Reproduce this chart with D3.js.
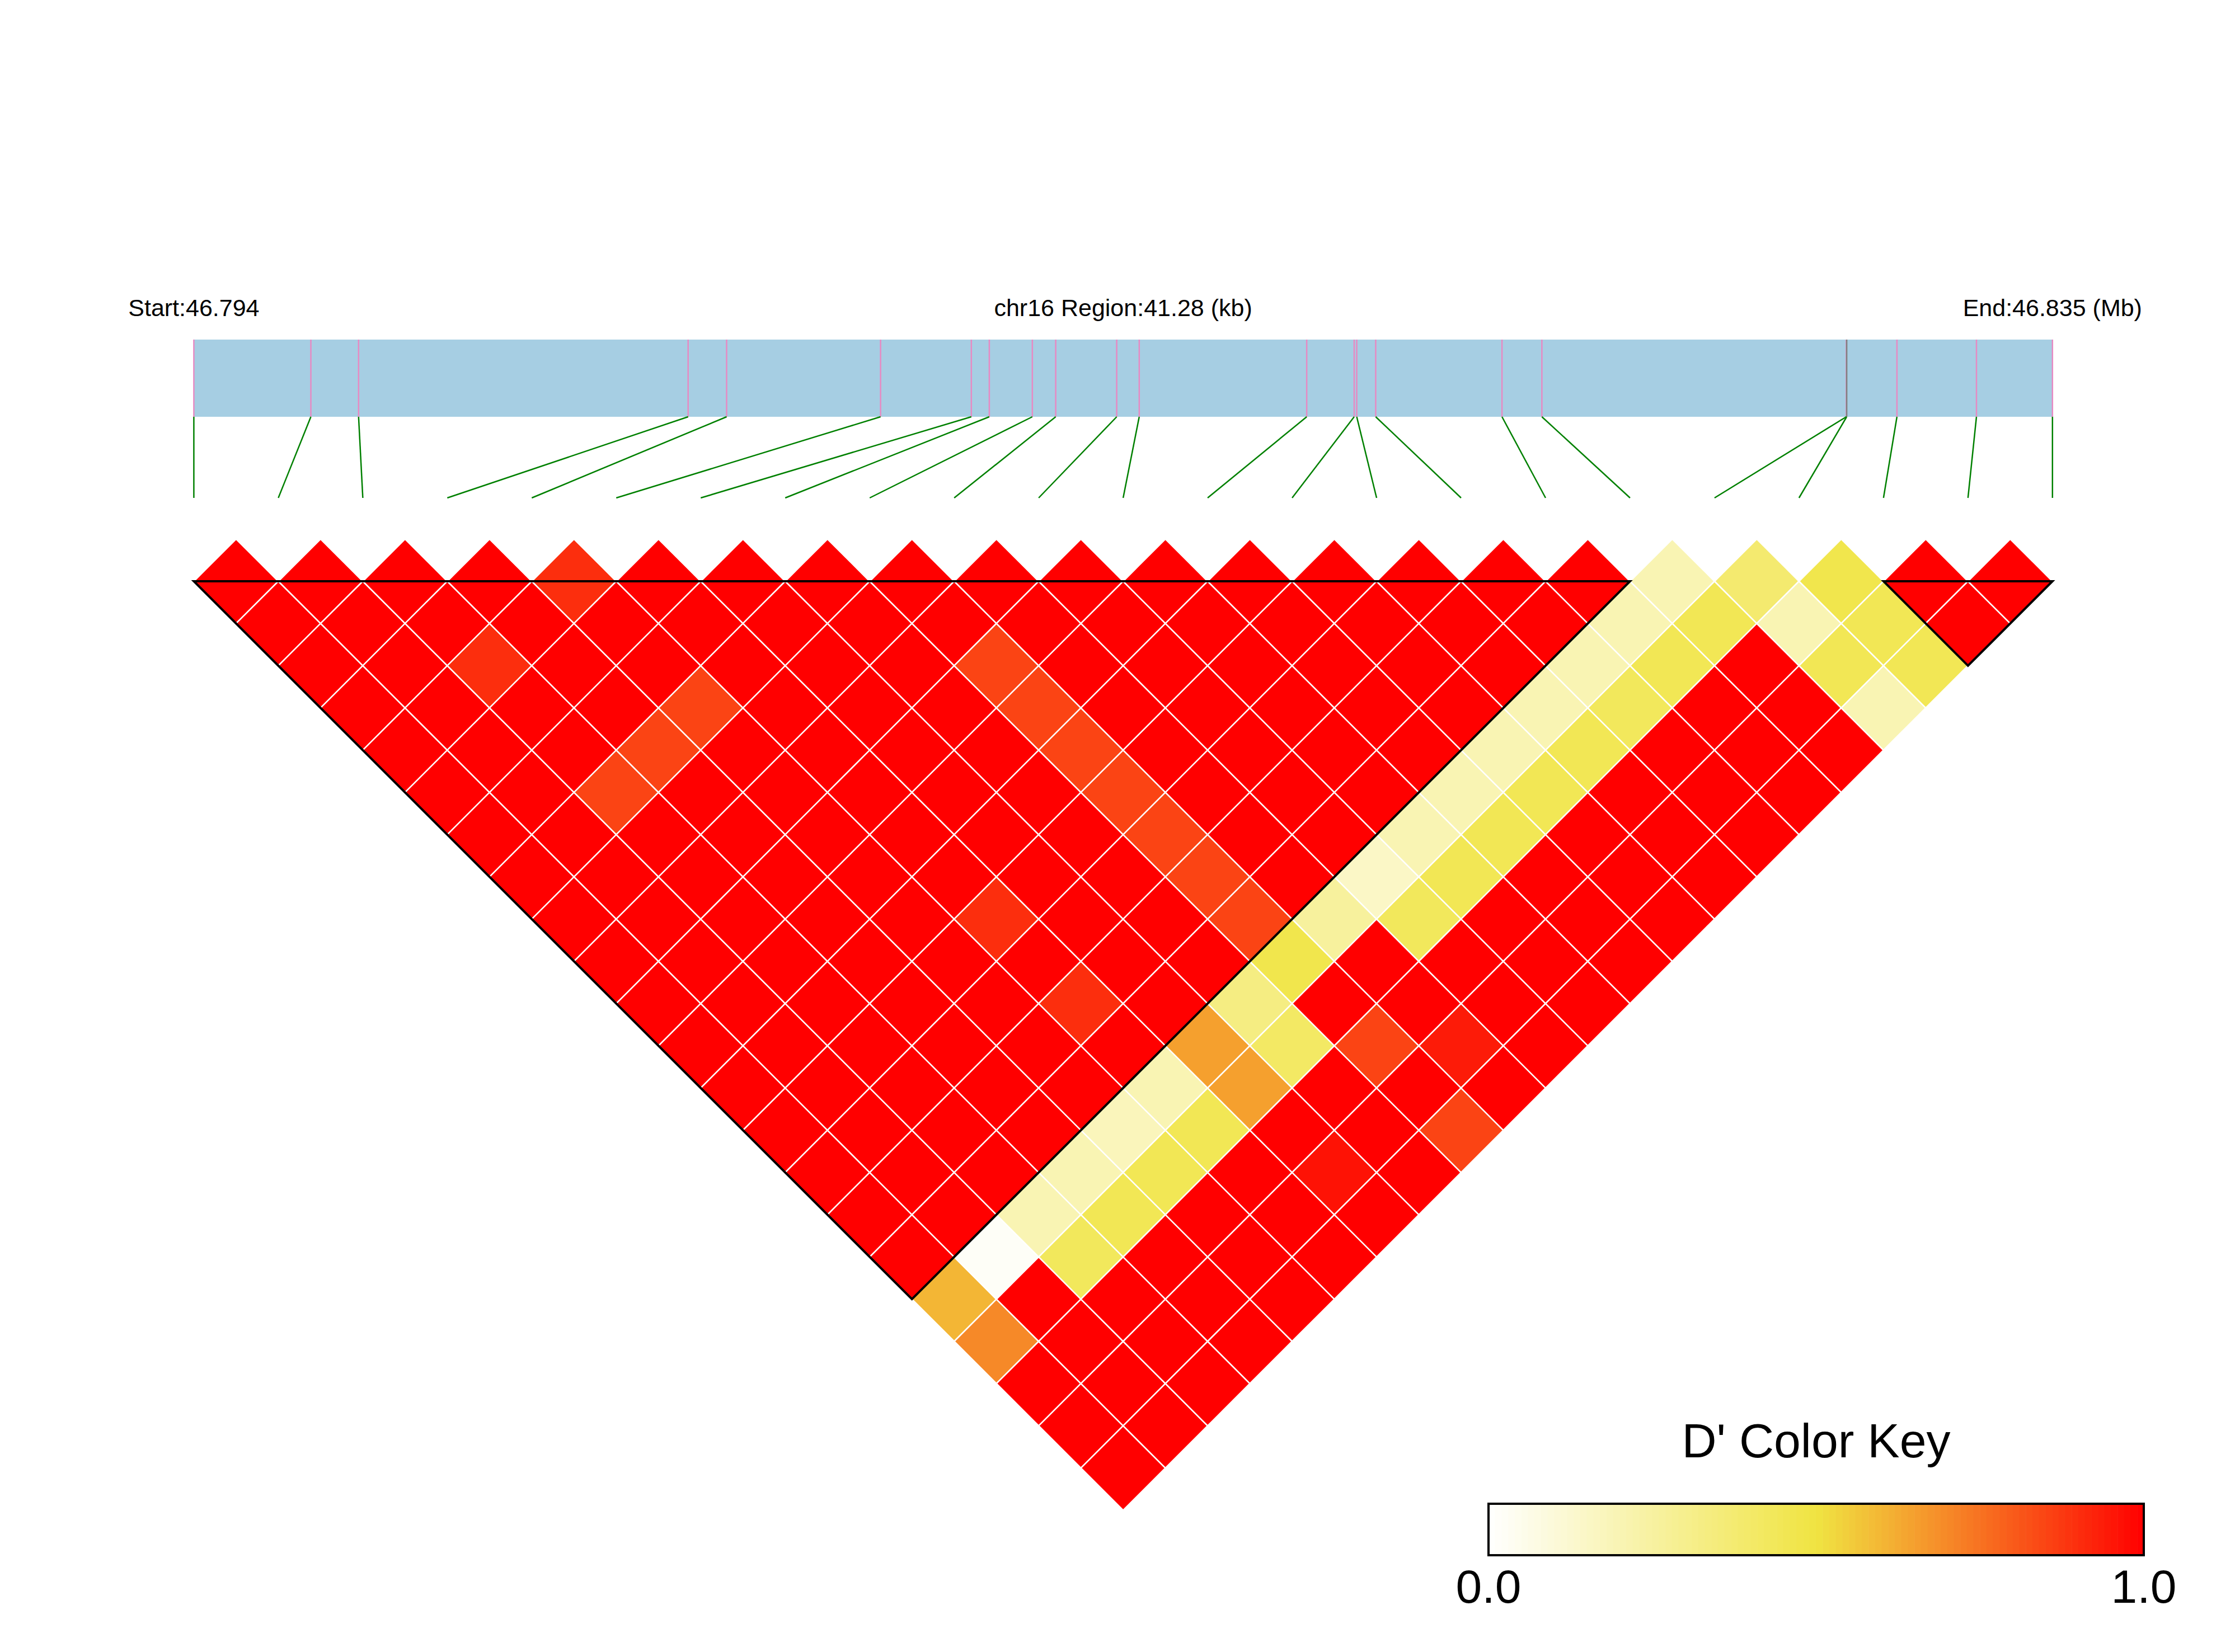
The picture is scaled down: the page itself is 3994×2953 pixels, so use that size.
<!DOCTYPE html>
<html>
<head>
<meta charset="utf-8">
<script src="https://cdn.jsdelivr.net/npm/d3@7"></script>
<style>
body { margin: 0; background: #fff; }
text { font-family: "Liberation Sans", Arial, Helvetica, sans-serif; fill: #000; }
</style>
</head>
<body>
<svg id="chart" width="3994" height="2953"></svg>
<script>
// region + SNP positions (bp)
var chrom = "chr16";
var snpPos = [46794000, 46796599, 46797659, 46804978, 46805833, 46809252, 46811268, 46811667,
              46812623, 46813142, 46814497, 46814997, 46818717, 46819771, 46819828, 46820249,
              46823054, 46823940, 46830702, 46830710, 46831826, 46833592, 46835280];

// LD blocks (first snp index, last snp index)
var blocks = [[0, 17], [20, 22]];

// D' values, row i holds pairs (i, j) for j = i+1 .. n-1
var dprime = [
  [1,1,1,1,1,1,1,1,1,1,1,1,1,1,1,1,1,0.6,0.7,1,1,1],
  [1,1,1,1,1,1,1,1,1,1,1,1,1,1,1,1,0.02,1,1,1,1],
  [1,1,0.9,1,1,0.85,1,1,1,1,1,1,1,1,1,0.2,0.43,1,1,1],
  [1,1,1,1,0.85,1,1,1,1,1,1,1,1,1,0.2,0.45,1,1,1],
  [0.9,1,1,0.85,1,1,1,1,1,1,1,1,1,0.18,0.45,1,1,1],
  [1,1,1,1,1,1,1,1,0.9,1,0.9,1,0.2,0.45,1,1,1],
  [1,1,1,1,1,1,1,1,1,1,1,0.65,0.65,1,0.96,1],
  [1,1,1,1,1,1,1,1,1,1,0.33,0.41,1,1,1],
  [1,1,0.85,0.85,0.85,0.85,0.85,0.85,0.85,0.47,1,0.85,1,0.85],
  [1,1,1,1,1,1,1,1,0.26,1,1,0.94,1],
  [1,1,1,1,1,1,1,0.15,0.43,1,1,1],
  [1,1,1,1,1,1,0.2,0.45,1,1,1],
  [1,1,1,1,1,0.2,0.45,1,1,1],
  [1,1,1,1,0.2,0.45,1,1,1],
  [1,1,1,0.2,0.45,1,1,1],
  [1,1,0.2,0.43,1,1,1],
  [1,0.2,0.45,1,1,1],
  [0.2,0.45,1,1,1],
  [0.38,0.2,0.45,0.2],
  [0.47,0.45,0.45],
  [1,1],
  [1]
];

var keyTicks = [0, 1];

var svg = d3.select("#chart"),
    n = snpPos.length,
    left = 346.4,
    right = 3667.8,
    textY = 565,
    barTop = 607,
    barBottom = 745,
    lineEnd = 890,
    mapTop = 1039;   // y of the first row of the heatmap

var xs = d3.scaleLinear().domain([0, n - 1]).range([left, right]),
    phys = d3.scaleLinear().domain(d3.extent(snpPos)).range([left, right]),
    color = d3.scaleLinear().domain([0, 0.5, 1]).range(["#ffffff", "#f0e442", "#ff0000"]),
    h = (xs(1) - xs(0)) / 2;

// header text
var startBp = d3.min(snpPos), endBp = d3.max(snpPos);
svg.append("text").attr("x", xs(0)).attr("y", textY).attr("text-anchor", "middle")
   .attr("font-size", 43).text("Start:" + (startBp / 1e6).toFixed(3));
svg.append("text").attr("x", (left + right) / 2).attr("y", textY).attr("text-anchor", "middle")
   .attr("font-size", 43).text(chrom + " Region:" + ((endBp - startBp) / 1000).toFixed(2) + " (kb)");
svg.append("text").attr("x", xs(n - 1)).attr("y", textY).attr("text-anchor", "middle")
   .attr("font-size", 43).text("End:" + (endBp / 1e6).toFixed(3) + " (Mb)");

// gene bar
svg.append("rect")
   .attr("x", left).attr("y", barTop)
   .attr("width", right - left).attr("height", barBottom - barTop)
   .attr("fill", "#a6cee3");

svg.append("g").selectAll("line")
   .data(snpPos)
   .enter().append("line")
   .attr("x1", function(d) { return phys(d); })
   .attr("x2", function(d) { return phys(d); })
   .attr("y1", barTop).attr("y2", barBottom)
   .attr("stroke", function(d, i) {
       // two snps drawn on top of each other show up grey
       return (i > 0 && d - snpPos[i - 1] < 20) ? "#808080" : "#e78ac3";
   })
   .attr("stroke-width", 2.5);

svg.append("g").selectAll("line")
   .data(snpPos)
   .enter().append("line")
   .attr("x1", function(d) { return phys(d); })
   .attr("y1", barBottom)
   .attr("x2", function(d, i) { return xs(i); })
   .attr("y2", lineEnd)
   .attr("stroke", "#008000")
   .attr("stroke-width", 2.5);

// heatmap cells
var cells = [];
dprime.forEach(function(row, i) {
    row.forEach(function(v, k) {
        cells.push({i: i, j: i + 1 + k, v: v});
    });
});

svg.append("g").selectAll("polygon")
   .data(cells)
   .enter().append("polygon")
   .attr("points", function(d) {
       var cx = (xs(d.i) + xs(d.j)) / 2,
           cy = mapTop + (d.j - d.i - 1) * h;
       return [[cx, cy - h], [cx + h, cy], [cx, cy + h], [cx - h, cy]].join(" ");
   })
   .attr("fill", function(d) { return color(d.v); })
   .attr("stroke", "#fff")
   .attr("stroke-width", 2.5)
   .attr("stroke-linejoin", "miter");

// block outlines
svg.append("g").selectAll("path")
   .data(blocks)
   .enter().append("path")
   .attr("d", function(b) {
       var x0 = xs(b[0]), x1 = xs(b[1]);
       return "M" + x0 + "," + mapTop + "L" + x1 + "," + mapTop +
              "L" + (x0 + x1) / 2 + "," + (mapTop + (b[1] - b[0]) * h) + "Z";
   })
   .attr("fill", "none")
   .attr("stroke", "#000")
   .attr("stroke-width", 4);

// colour key
var keyX0 = 2660, keyX1 = 3831, keyY = 2688, keyH = 92, steps = 100;
var kx = d3.scaleLinear().domain([0, 1]).range([keyX0, keyX1]);

svg.append("text").attr("x", (keyX0 + keyX1) / 2).attr("y", 2605)
   .attr("text-anchor", "middle").attr("font-size", 86).text("D' Color Key");

svg.append("g").selectAll("rect")
   .data(d3.range(steps))
   .enter().append("rect")
   .attr("x", function(d) { return kx(d / steps); })
   .attr("y", keyY)
   .attr("width", (keyX1 - keyX0) / steps + 0.6)
   .attr("height", keyH)
   .attr("fill", function(d) { return color((d + 0.5) / steps); });

svg.append("rect")
   .attr("x", keyX0).attr("y", keyY)
   .attr("width", keyX1 - keyX0).attr("height", keyH)
   .attr("fill", "none").attr("stroke", "#000").attr("stroke-width", 4);

svg.append("g").selectAll("text")
   .data(keyTicks)
   .enter().append("text")
   .attr("x", function(d) { return kx(d); })
   .attr("y", 2865)
   .attr("text-anchor", "middle")
   .attr("font-size", 84)
   .text(function(d) { return d.toFixed(1); });
</script>
</body>
</html>
